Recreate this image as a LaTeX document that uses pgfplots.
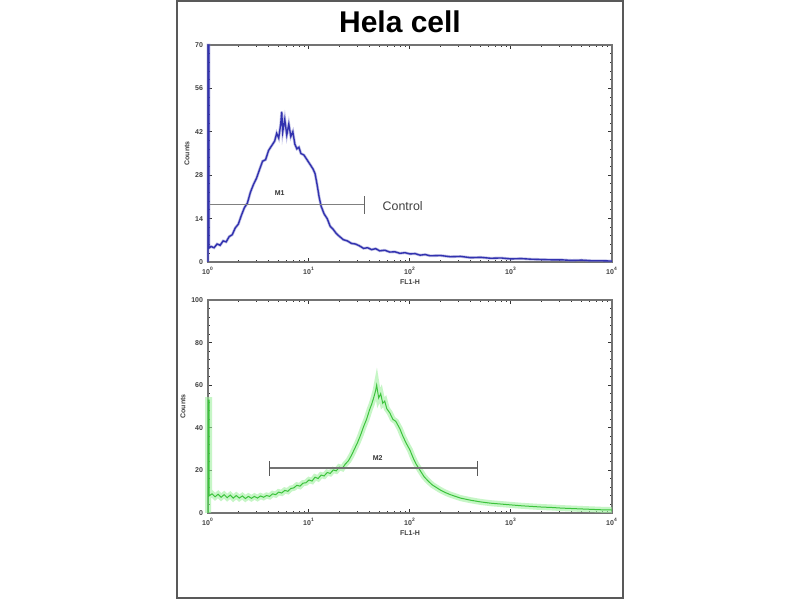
\documentclass[border=0pt]{standalone}
\usepackage{pgfplots}
\pgfplotsset{compat=1.18}
\usepackage{fontspec}
\setmainfont{Liberation Sans}
\definecolor{fblue}{RGB}{50,50,175}
\definecolor{fgreen}{RGB}{60,195,60}
\definecolor{fglow}{RGB}{160,240,160}
\pgfplotsset{
  facs/.style={
    scale only axis, anchor=south west,
    xmin=0, xmax=4,
    xtick={0,1,2,3,4},
    xticklabels={10\textsuperscript{0},10\textsuperscript{1},10\textsuperscript{2},10\textsuperscript{3},10\textsuperscript{4}},
    minor xtick={0.301,0.477,0.602,0.699,0.778,0.845,0.903,0.954,1.301,1.477,1.602,1.699,1.778,1.845,1.903,1.954,2.301,2.477,2.602,2.699,2.778,2.845,2.903,2.954,3.301,3.477,3.602,3.699,3.778,3.845,3.903,3.954},
    minor y tick num=4,
    tick align=inside,
    major tick length=2pt, minor tick length=1.2pt,
    every tick/.style={black!80, line width=0.5pt},
    axis line style={black!55, line width=0.6pt},
    tick label style={font=\fontsize{3.5}{4}\selectfont\bfseries, text=black!75},
    /pgf/number format/assume math mode=true,
    xticklabel style={yshift=1pt},
    yticklabel style={xshift=1pt},
    label style={font=\fontsize{3.5}{4}\selectfont\bfseries, text=black!75},
    xlabel={FL1-H},
    ylabel={Counts},
    xlabel style={yshift=4.5pt},
    ylabel style={yshift=-4pt},
    clip=false,
  }
}
\begin{document}
\begin{tikzpicture}
\path[use as bounding box, fill=white] (0pt,0pt) rectangle (400pt,300pt);
\draw[black!65, line width=1.1pt] (88.5pt,1pt) rectangle (311.5pt,299.5pt);
\node[font=\fontsize{15}{17}\selectfont\bfseries] at (200pt,289pt) {Hela cell};

% upper panel
\begin{axis}[facs, at={(104pt,169pt)}, width=202pt, height=108.5pt,
  ymin=0, ymax=70, ytick={0,14,28,42,56,70}]
\addplot[fblue!60, line width=1.4pt, opacity=0.5] coordinates {
(0,0) (0,70) (0.01,70) (0.01,4.5) (0.03,5.0) (0.06,4.6) (0.09,5.8) (0.12,5.4) (0.15,6.8) (0.18,6.5)
(0.21,8.2) (0.24,8.8) (0.27,11.0) (0.30,12.2) (0.33,15.0) (0.36,17.5) (0.39,19.0) (0.42,22.5)
(0.45,25.0) (0.48,27.0) (0.51,29.8) (0.54,32.5) (0.57,33.0) (0.60,36.0) (0.63,37.5) (0.66,39.0)
(0.68,41.5) (0.70,40.0) (0.72,44.5) (0.73,48.5) (0.74,42.0) (0.76,46.0) (0.78,41.0) (0.80,44.5)
(0.82,40.5) (0.84,42.0) (0.86,38.0) (0.88,36.5) (0.90,37.0) (0.92,35.0) (0.95,34.5) (0.98,33.0)
(1.01,31.5) (1.04,30.0) (1.06,28.5) (1.08,25.0) (1.10,21.0) (1.12,18.0) (1.15,15.5) (1.18,14.0)
(1.21,11.5) (1.24,10.5) (1.27,9.2) (1.30,8.3) (1.34,7.2) (1.38,6.8) (1.42,6.0) (1.46,5.8)
(1.50,5.2) (1.54,4.4) (1.58,4.6) (1.62,4.0) (1.66,4.3) (1.70,3.6) (1.75,3.8) (1.80,3.2)
(1.85,3.3) (1.90,2.8) (1.95,3.0) (2.00,2.6) (2.05,2.7) (2.10,2.2) (2.15,2.4) (2.20,2.0)
(2.30,2.1) (2.40,1.7) (2.50,1.8) (2.60,1.4) (2.70,1.5) (2.80,1.2) (2.90,1.3) (3.00,1.0)
(3.10,1.1) (3.20,0.9) (3.30,0.8) (3.40,0.7) (3.50,0.7) (3.60,0.5) (3.70,0.6) (3.80,0.4)
(3.90,0.4) (4.00,0.3)
};
\addplot[fblue, line width=0.7pt] coordinates {
(0,0) (0,70) (0.01,70) (0.01,4.5) (0.03,5.0) (0.06,4.6) (0.09,5.8) (0.12,5.4) (0.15,6.8) (0.18,6.5)
(0.21,8.2) (0.24,8.8) (0.27,11.0) (0.30,12.2) (0.33,15.0) (0.36,17.5) (0.39,19.0) (0.42,22.5)
(0.45,25.0) (0.48,27.0) (0.51,29.8) (0.54,32.5) (0.57,33.0) (0.60,36.0) (0.63,37.5) (0.66,39.0)
(0.68,41.5) (0.70,40.0) (0.72,44.5) (0.73,48.5) (0.74,42.0) (0.76,46.0) (0.78,41.0) (0.80,44.5)
(0.82,40.5) (0.84,42.0) (0.86,38.0) (0.88,36.5) (0.90,37.0) (0.92,35.0) (0.95,34.5) (0.98,33.0)
(1.01,31.5) (1.04,30.0) (1.06,28.5) (1.08,25.0) (1.10,21.0) (1.12,18.0) (1.15,15.5) (1.18,14.0)
(1.21,11.5) (1.24,10.5) (1.27,9.2) (1.30,8.3) (1.34,7.2) (1.38,6.8) (1.42,6.0) (1.46,5.8)
(1.50,5.2) (1.54,4.4) (1.58,4.6) (1.62,4.0) (1.66,4.3) (1.70,3.6) (1.75,3.8) (1.80,3.2)
(1.85,3.3) (1.90,2.8) (1.95,3.0) (2.00,2.6) (2.05,2.7) (2.10,2.2) (2.15,2.4) (2.20,2.0)
(2.30,2.1) (2.40,1.7) (2.50,1.8) (2.60,1.4) (2.70,1.5) (2.80,1.2) (2.90,1.3) (3.00,1.0)
(3.10,1.1) (3.20,0.9) (3.30,0.8) (3.40,0.7) (3.50,0.7) (3.60,0.5) (3.70,0.6) (3.80,0.4)
(3.90,0.4) (4.00,0.3)
};
\addplot[black!50, line width=0.5pt] coordinates {(0.02,18.4) (1.55,18.4)};
\addplot[black!60, line width=0.6pt] coordinates {(1.55,15.6) (1.55,21.2)};
\node[font=\fontsize{3.5}{4}\selectfont\bfseries, text=black!80] at (axis cs:0.71,22.2) {M1};
\node[font=\fontsize{6.2}{7}\selectfont, text=black!75, anchor=west] at (axis cs:1.66,18.0) {Control};
\end{axis}

% lower panel
\begin{axis}[facs, at={(104pt,43.5pt)}, width=202pt, height=106.5pt,
  ymin=0, ymax=100, ytick={0,20,40,60,80,100}]
\addplot[fglow, line width=3pt, opacity=0.6] coordinates {
(0,0) (0,53) (0.01,53) (0.01,8.0) (0.04,9.0) (0.07,7.6) (0.10,8.8) (0.13,7.4) (0.16,8.6) (0.19,7.2)
(0.22,8.4) (0.25,7.0) (0.28,8.2) (0.31,7.0) (0.34,8.0) (0.37,6.8) (0.40,7.8) (0.43,6.9) (0.46,7.8)
(0.49,7.0) (0.52,8.0) (0.55,7.4) (0.58,8.2) (0.61,7.8) (0.64,9.0) (0.67,8.6) (0.70,9.8) (0.73,9.4)
(0.76,10.6) (0.79,10.2) (0.82,11.5) (0.85,11.8) (0.88,13.0) (0.91,12.6) (0.94,14.0) (0.97,14.2)
(1.00,15.5) (1.03,15.0) (1.06,16.8) (1.09,16.2) (1.12,17.8) (1.15,17.4) (1.18,19.0) (1.21,18.6)
(1.24,20.2) (1.27,19.8) (1.30,21.5) (1.33,21.0) (1.36,23.0) (1.39,24.5) (1.42,27.0) (1.45,30.0)
(1.48,33.0) (1.51,36.5) (1.54,40.5) (1.57,44.0) (1.60,48.5) (1.62,51.0) (1.64,54.0) (1.66,57.5)
(1.67,60.0) (1.69,54.0) (1.71,56.0) (1.73,51.5) (1.75,52.5) (1.77,49.0) (1.80,47.0) (1.83,44.0)
(1.86,43.0) (1.90,39.5) (1.93,36.0) (1.96,33.0) (2.00,29.5) (2.03,26.0) (2.06,23.0) (2.10,20.0)
(2.14,17.0) (2.18,15.0) (2.22,13.2) (2.26,12.0) (2.30,10.8) (2.35,9.6) (2.40,8.6) (2.45,7.8)
(2.50,7.0) (2.55,6.5) (2.60,6.0) (2.65,5.6) (2.70,5.2) (2.80,4.6) (2.90,4.2) (3.00,3.8)
(3.10,3.4) (3.20,3.1) (3.30,2.8) (3.40,2.6) (3.50,2.3) (3.60,2.1) (3.70,1.9) (3.80,1.7)
(3.90,1.5) (4.00,1.4)
};
\addplot[fgreen, line width=0.5pt] coordinates {
(0,0) (0,53) (0.01,53) (0.01,8.0) (0.04,9.0) (0.07,7.6) (0.10,8.8) (0.13,7.4) (0.16,8.6) (0.19,7.2)
(0.22,8.4) (0.25,7.0) (0.28,8.2) (0.31,7.0) (0.34,8.0) (0.37,6.8) (0.40,7.8) (0.43,6.9) (0.46,7.8)
(0.49,7.0) (0.52,8.0) (0.55,7.4) (0.58,8.2) (0.61,7.8) (0.64,9.0) (0.67,8.6) (0.70,9.8) (0.73,9.4)
(0.76,10.6) (0.79,10.2) (0.82,11.5) (0.85,11.8) (0.88,13.0) (0.91,12.6) (0.94,14.0) (0.97,14.2)
(1.00,15.5) (1.03,15.0) (1.06,16.8) (1.09,16.2) (1.12,17.8) (1.15,17.4) (1.18,19.0) (1.21,18.6)
(1.24,20.2) (1.27,19.8) (1.30,21.5) (1.33,21.0) (1.36,23.0) (1.39,24.5) (1.42,27.0) (1.45,30.0)
(1.48,33.0) (1.51,36.5) (1.54,40.5) (1.57,44.0) (1.60,48.5) (1.62,51.0) (1.64,54.0) (1.66,57.5)
(1.67,60.0) (1.69,54.0) (1.71,56.0) (1.73,51.5) (1.75,52.5) (1.77,49.0) (1.80,47.0) (1.83,44.0)
(1.86,43.0) (1.90,39.5) (1.93,36.0) (1.96,33.0) (2.00,29.5) (2.03,26.0) (2.06,23.0) (2.10,20.0)
(2.14,17.0) (2.18,15.0) (2.22,13.2) (2.26,12.0) (2.30,10.8) (2.35,9.6) (2.40,8.6) (2.45,7.8)
(2.50,7.0) (2.55,6.5) (2.60,6.0) (2.65,5.6) (2.70,5.2) (2.80,4.6) (2.90,4.2) (3.00,3.8)
(3.10,3.4) (3.20,3.1) (3.30,2.8) (3.40,2.6) (3.50,2.3) (3.60,2.1) (3.70,1.9) (3.80,1.7)
(3.90,1.5) (4.00,1.4)
};
\addplot[black!55, line width=0.9pt] coordinates {(0.61,21) (2.67,21)};
\addplot[black!65, line width=0.7pt] coordinates {(0.61,17.5) (0.61,24.5)};
\addplot[black!65, line width=0.7pt] coordinates {(2.67,17.5) (2.67,24.5)};
\node[font=\fontsize{3.5}{4}\selectfont\bfseries, text=black!80] at (axis cs:1.68,26) {M2};
\end{axis}
\end{tikzpicture}
\end{document}
